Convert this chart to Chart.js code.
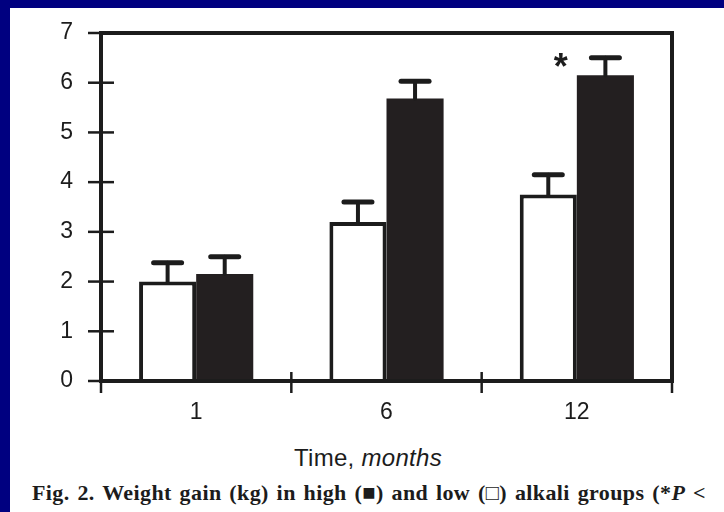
<!DOCTYPE html>
<html>
<head>
<meta charset="utf-8">
<script src="https://cdn.jsdelivr.net/npm/chart.js@4/dist/chart.umd.min.js"></script>
<style>
  html, body { margin: 0; padding: 0; }
  body {
    width: 724px; height: 512px; overflow: hidden; position: relative;
    background: #000080;
  }
  #panel {
    position: absolute; left: 10px; top: 8px; width: 714px; height: 504px;
    background: #ffffff;
  }
  #chartBox { position: absolute; left: 0; top: 0; width: 714px; height: 430px; }
  #xTitle {
    position: absolute; left: 0; top: 438px; width: 716px; text-align: center;
    font: 24px/24px "Liberation Sans", Arial, sans-serif; color: #1c1c1c;
    letter-spacing: 0.3px; white-space: nowrap;
  }
  #caption {
    position: absolute; left: 22px; top: 474px; white-space: nowrap;
    font: bold 22px/22px "Liberation Serif", "Times New Roman", serif; color: #1c1c1c;
    letter-spacing: 0.4px; word-spacing: 1.9px;
  }
</style>
</head>
<body>
<div id="panel">
  <div id="chartBox"><canvas id="myChart" width="714" height="430"></canvas></div>
  <div id="xTitle">Time, <i>months</i></div>
  <div id="caption">Fig. 2. Weight gain (kg) in high (&#9632;) and low (&#9633;) alkali groups (*<i>P</i> &lt;</div>
</div>
<script>
const ctx = document.getElementById('myChart').getContext('2d');

// Months after start
const months = ['1', '6', '12'];
// Weight gain (kg), low alkali group (open bars)
const lowAlkali = [2.0, 3.2, 3.75];
const lowAlkaliErr = [0.38, 0.4, 0.4];
// Weight gain (kg), high alkali group (filled bars)
const highAlkali = [2.15, 5.68, 6.15];
const highAlkaliErr = [0.35, 0.35, 0.35];
// y axis ticks
const yTicks = [0, 1, 2, 3, 4, 5, 6, 7];
// significance marker (index of the month)
const starAt = 2;

const ink = '#1c1c1c';

// Frame round the plot, tick marks crossing the axes
const framePlugin = {
    id: 'frame',
    afterDraw(chart) {
        const c = chart.ctx;
        const area = chart.chartArea;
        const xs = chart.scales.x;
        const ys = chart.scales.y;
        c.save();
        c.strokeStyle = ink;
        c.lineWidth = 4;
        c.strokeRect(area.left, area.top, area.right - area.left, area.bottom - area.top);

        // y ticks
        c.lineWidth = 2.5;
        yTicks.forEach(v => {
            const y = ys.getPixelForValue(v);
            c.beginPath();
            c.moveTo(area.left - 13, y);
            c.lineTo(area.left + (v === 7 ? 0 : 13), y);
            c.stroke();
        });

        // x ticks at the category boundaries
        const half = (xs.getPixelForValue(1) - xs.getPixelForValue(0)) / 2;
        for (let i = 0; i <= months.length; i++) {
            const x = xs.getPixelForValue(0) - half + i * half * 2;
            const edge = (i === 0 || i === months.length);
            c.beginPath();
            c.moveTo(x, area.bottom - (edge ? 0 : 9));
            c.lineTo(x, area.bottom + 12);
            c.stroke();
        }
        c.restore();
    }
};

// Upper error bars, drawn from each bar top
const errorBarsPlugin = {
    id: 'errorBars',
    afterDatasetsDraw(chart) {
        const c = chart.ctx;
        const ys = chart.scales.y;
        c.save();
        c.strokeStyle = ink;
        c.lineCap = 'round';
        chart.data.datasets.forEach((ds, i) => {
            const meta = chart.getDatasetMeta(i);
            meta.data.forEach((bar, j) => {
                const top = ys.getPixelForValue(ds.data[j] + ds.errors[j]);
                c.lineWidth = 4;
                c.beginPath();
                c.moveTo(bar.x, bar.y);
                c.lineTo(bar.x, top);
                c.stroke();
                c.lineWidth = 5;
                c.beginPath();
                c.moveTo(bar.x - 14, top);
                c.lineTo(bar.x + 14, top);
                c.stroke();
            });
        });

        // asterisk above the 12 month pair
        const xs = chart.scales.x;
        const sx = xs.getPixelForValue(starAt) - 16;
        const sy = ys.getPixelForValue(highAlkali[starAt] + highAlkaliErr[starAt]);
        c.fillStyle = ink;
        c.font = 'bold 36px "Liberation Sans", Arial, sans-serif';
        c.textAlign = 'center';
        c.textBaseline = 'alphabetic';
        c.fillText('*', sx, sy + 21);
        c.restore();
    }
};

const chart = new Chart(ctx, {
    type: 'bar',
    data: {
        labels: months,
        datasets: [
            {
                label: 'Low alkali',
                data: lowAlkali,
                errors: lowAlkaliErr,
                backgroundColor: '#ffffff',
                borderColor: ink,
                borderWidth: 4,
                borderSkipped: 'start'
            },
            {
                label: 'High alkali',
                data: highAlkali,
                errors: highAlkaliErr,
                backgroundColor: '#231f20',
                borderWidth: 0
            }
        ]
    },
    options: {
        responsive: false,
        animation: false,
        events: [],
        categoryPercentage: 0.6,
        barPercentage: 1.0,
        layout: { padding: { left: 0, top: 25, right: 52, bottom: 0 } },
        plugins: {
            legend: { display: false },
            tooltip: { enabled: false }
        },
        scales: {
            x: {
                grid: { display: false, drawTicks: false },
                border: { display: false },
                ticks: {
                    color: ink,
                    padding: 18,
                    font: { family: '"Liberation Sans", Arial, sans-serif', size: 23 }
                },
                afterFit: scale => { scale.height = 57; scale.paddingLeft = 0; scale.paddingRight = 0; }
            },
            y: {
                min: 0,
                max: 7,
                grid: { display: false, drawTicks: false },
                border: { display: false },
                ticks: {
                    stepSize: 1,
                    color: ink,
                    padding: 28,
                    font: { family: '"Liberation Sans", Arial, sans-serif', size: 23 }
                },
                // fixed axis width; labels may overflow the plot edges
                afterFit: scale => { scale.width = 91; scale.paddingTop = 0; scale.paddingBottom = 0; }
            }
        }
    },
    plugins: [errorBarsPlugin, framePlugin]
});
</script>
</body>
</html>
